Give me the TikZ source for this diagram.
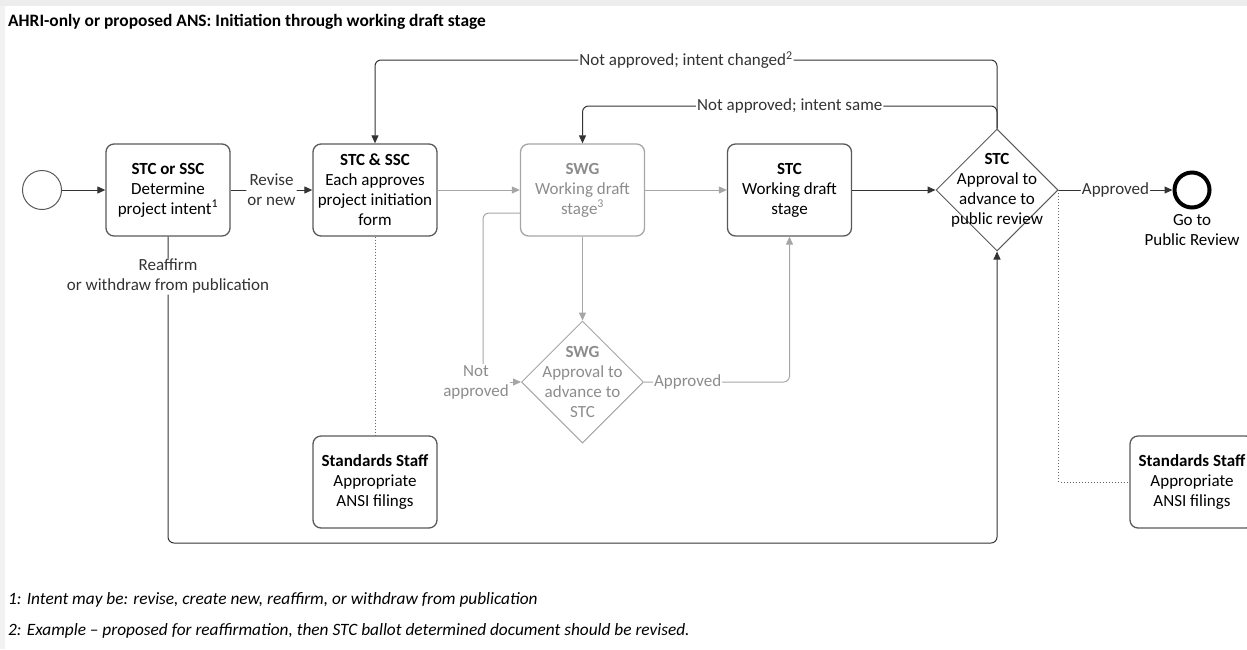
\documentclass[tikz,border=0pt]{standalone}
\usepackage{fontspec}
\setmainfont{Carlito}
\usetikzlibrary{arrows.meta}
\usetikzlibrary{calc}
\usetikzlibrary{shapes.geometric}
\usetikzlibrary{positioning}

\colorlet{ink}{black!80}
\colorlet{lite}{black!35}
\colorlet{litetext}{black!45}

\begin{document}
\begin{tikzpicture} [x=1pt, y=-1pt, >={Stealth[length=8pt, width=7pt, inset=0pt]},
  txt/.style={font=\fontsize{17}{20}\selectfont, align=center},
  task/.style={txt, draw=black!65, line width=1.3pt, rounded corners=8pt, minimum width=124pt, minimum height=92pt, inner sep=1pt},
  gate/.style={draw=black!65, line width=1pt, diamond, minimum width=122pt, minimum height=122pt, inner sep=0pt},
  lbl/.style={txt, fill=white, inner sep=1pt},
  flow/.style={ink, line width=1pt, rounded corners=6pt}]
\useasboundingbox (0,0) rectangle (1247,649);
\clip (0,0) rectangle (1247,649);
\fill[black!7] (0,0) rectangle (1247,6);
\fill[black!5] (0,6) rectangle (5,649);

\node[anchor=west, inner sep=0pt, font=\bfseries\fontsize{17.4}{20}\selectfont] (title) at (8,22) {AHRI-only or proposed ANS: Initiation through working draft stage};

\coordinate (hi) at (0,60);
\coordinate (mid) at (0,106);
\coordinate (low) at (0,543);

\node[draw=black!65, line width=1pt, circle, minimum size=39pt, inner sep=0pt] (start) at (42,190) {};
\node[task] (intent) at (168,190) {\textbf{STC or SSC}\\Determine\\project intent\textsuperscript{1}};
\node[task] (initiation) at (375,190) {\textbf{STC \& SSC}\\Each approves\\project initiation\\form};
\node[task, draw=lite, text=litetext] (swgdraft) at (582.5,190) {\textbf{SWG}\\Working draft\\stage\textsuperscript{3}};
\node[task] (stcdraft) at (789.5,190) {\textbf{STC}\\Working draft\\stage};
\node[gate] (stcgate) at (997,190) {};
\node[txt] at (stcgate) {\textbf{STC}\\Approval to\\advance to\\public review};
\node[draw=black, line width=4pt, circle, minimum size=35pt, inner sep=0pt] (finish) at (1192,190) {};
\node[txt, below=1pt of finish] (finishtxt) {Go to\\Public Review};

\node[gate, draw=lite] (swggate) at (582.5,382) {};
\node[txt, text=litetext] at (swggate) {\textbf{SWG}\\Approval to\\advance to\\STC};
\node[txt, text=litetext, inner sep=1pt] (notok) at (476,382) {Not\\approved};

\node[task] (staffA) at (375,482) {\textbf{Standards Staff}\\Appropriate\\ANSI filings};
\node[task] (staffB) at (1192,482) {\textbf{Standards Staff}\\Appropriate\\ANSI filings};

\draw[flow, ->] (start) -- (intent);
\draw[flow, ->] (intent) -- node[lbl] {Revise\\or new} (initiation);
\draw[flow, lite, ->] (initiation) -- (swgdraft);
\draw[flow, lite, ->] (swgdraft) -- (stcdraft);
\draw[flow, ->] (stcdraft) -- (stcgate);
\draw[flow, ->] (stcgate) -- node[lbl] {Approved} (finish);

\draw[flow, ->] (stcgate.north) -- (stcgate.north |- hi) -- node[lbl] {Not approved; intent changed\textsuperscript{2}} (initiation.north |- hi) -- (initiation.north);
\draw[flow, ->] (stcgate.north) -- (stcgate.north |- mid) -- node[lbl] {Not approved; intent same} (swgdraft.north |- mid) -- (swgdraft.north);

\draw[flow, lite, ->] (swgdraft) -- (swggate);
\draw[flow, lite] ($(swgdraft.west)+(0,23)$) -| ($(notok.north)+(7,0)$);
\draw[flow, lite, ->] (notok.east) -- (swggate.west);
\draw[flow, lite, ->] (swggate.east) -| node[lbl, text=litetext, pos=0.15] {Approved} (stcdraft.south);

\draw[flow, ->] (intent.south) -- node[lbl, pos=0.13] {Reaffirm\\or withdraw from publication} (intent.south |- low) -- (stcgate.south |- low) -- (stcgate.south);

\draw[black!60, line width=1pt, dotted] (initiation) -- (staffA);
\draw[black!60, line width=1pt, dotted] (stcgate.east) |- (staffB.west);

\node[anchor=west, inner sep=0pt, font=\itshape\fontsize{17.3}{20}\selectfont] (note1) at (8,600) {1: Intent may be: revise, create new, reaffirm, or withdraw from publication};
\node[anchor=west, inner sep=0pt, font=\itshape\fontsize{17.3}{20}\selectfont] (note2) at (8,631) {2: Example -- proposed for reaffirmation, then STC ballot determined document should be revised.};
\end{tikzpicture}
\end{document}
